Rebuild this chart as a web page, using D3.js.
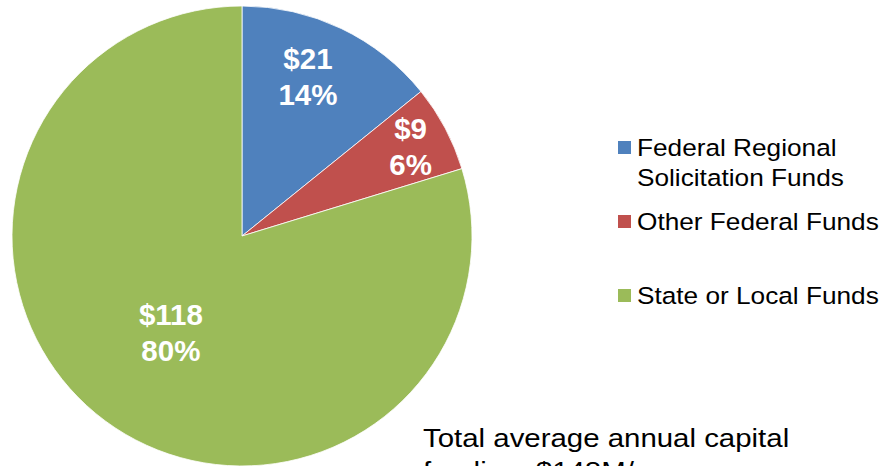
<!DOCTYPE html>
<html>
<head>
<meta charset="utf-8">
<script src="https://cdn.jsdelivr.net/npm/d3@7"></script>
<style>
  html, body { margin: 0; padding: 0; background: #fff; }
  svg { display: block; }
</style>
</head>
<body>
<svg id="chart" width="896" height="466"></svg>
<script>
const categories = ["Federal Regional Solicitation Funds", "Other Federal Funds", "State or Local Funds"];
const legendLines = [["Federal Regional", "Solicitation Funds"], ["Other Federal Funds"], ["State or Local Funds"]];
const values = [21, 9, 118];
const valueLabels = ["$21", "$9", "$118"];
const percentLabels = ["14%", "6%", "80%"];
const colors = ["#4F81BD", "#C0504D", "#9BBB59"];
const noteLines = ["Total average annual capital", "funding: $148M/year"];

// layout
const cx = 242, cy = 236, R = 230;
const labelRadiusFrac = [0.75, 0.83, 0.52];
const labelAngleFrac = [0.44, 0.5, 0.5];
const font = "Arial, 'Liberation Sans', sans-serif";

const svg = d3.select("#chart");
const pie = d3.pie().sort(null).value(d => d);
const arcs = pie(values);
const arc = d3.arc().innerRadius(0).outerRadius(R);

const g = svg.append("g").attr("transform", `translate(${cx},${cy})`);
g.selectAll("path.slice")
  .data(arcs)
  .join("path")
  .attr("class", "slice")
  .attr("d", arc)
  .attr("fill", (d, i) => colors[i])
  .attr("stroke", "#ffffff")
  .attr("stroke-width", 0.8);

const labels = g.selectAll("g.lbl")
  .data(arcs)
  .join("g")
  .attr("class", "lbl")
  .attr("transform", (d, i) => {
    const r = R * labelRadiusFrac[i];
    const a = d.startAngle + (d.endAngle - d.startAngle) * labelAngleFrac[i];
    return `translate(${r * Math.sin(a)},${-r * Math.cos(a)})`;
  });
labels.append("text")
  .attr("text-anchor", "middle")
  .attr("y", -7.5)
  .attr("font-family", font)
  .attr("font-weight", "bold")
  .attr("font-size", 29.5)
  .attr("fill", "#fff")
  .text((d, i) => valueLabels[i]);
labels.append("text")
  .attr("text-anchor", "middle")
  .attr("y", 28.5)
  .attr("font-family", font)
  .attr("font-weight", "bold")
  .attr("font-size", 29.5)
  .attr("fill", "#fff")
  .text((d, i) => percentLabels[i]);

// legend
const legendY = [156, 230, 304];
const lg = svg.append("g");
categories.forEach((c, i) => {
  lg.append("rect")
    .attr("x", 618).attr("y", legendY[i] - 15)
    .attr("width", 13).attr("height", 13)
    .attr("fill", colors[i]);
  legendLines[i].forEach((line, j) => {
    lg.append("text")
      .attr("transform", `translate(637,${legendY[i] + j * 29.5}) scale(1.07,1)`)
      .attr("font-family", font)
      .attr("font-size", 24.5)
      .attr("fill", "#000")
      .text(line);
  });
});

// note
noteLines.forEach((line, j) => {
  svg.append("text")
    .attr("transform", `translate(423,${447 + j * 33}) scale(1.11,1)`)
    .attr("font-family", font)
    .attr("font-size", 26.5)
    .attr("fill", "#000")
    .text(line);
});
</script>
</body>
</html>
